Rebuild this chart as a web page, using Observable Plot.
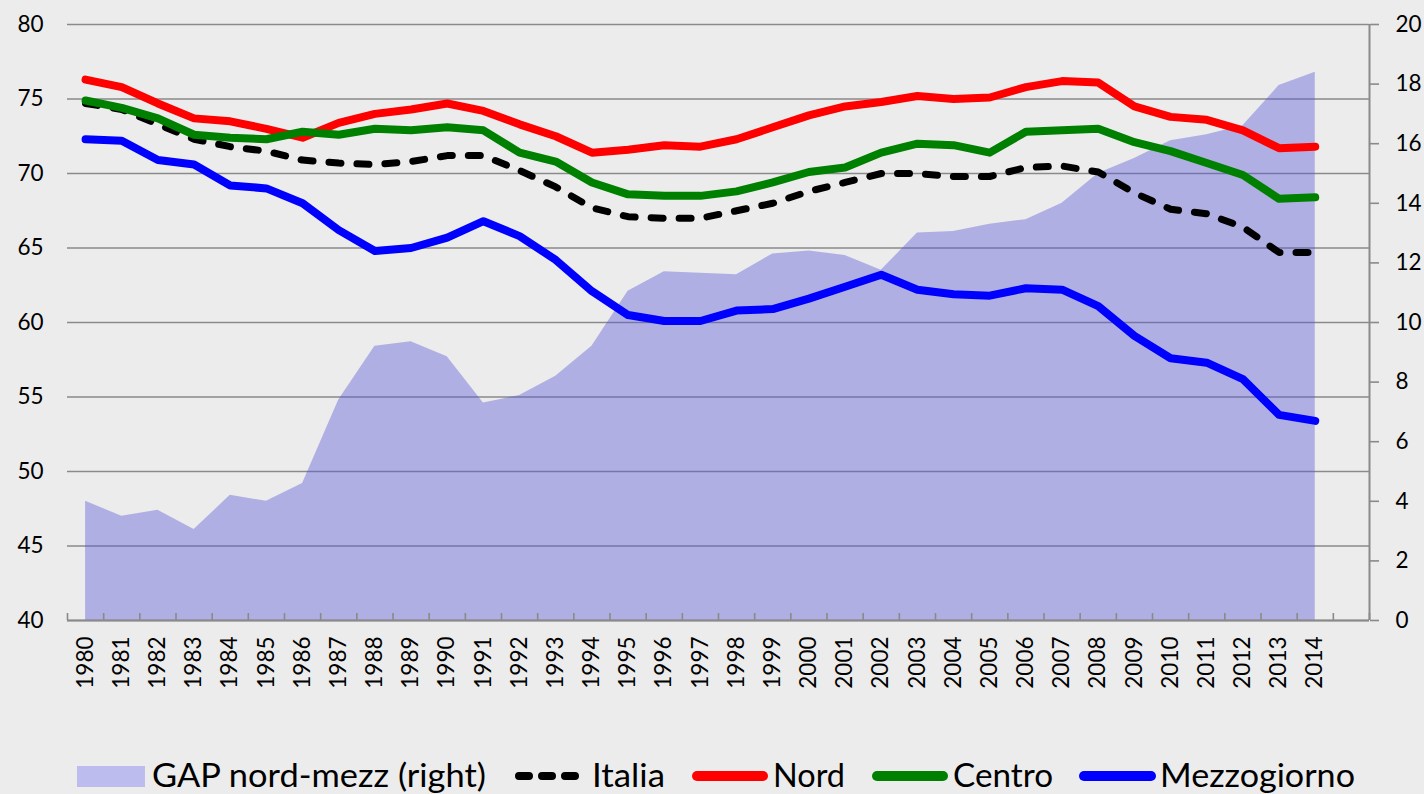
<!DOCTYPE html>
<html><head><meta charset="utf-8">
<script src="https://cdn.jsdelivr.net/npm/d3@7"></script>
<script src="https://cdn.jsdelivr.net/npm/@observablehq/plot@0.6"></script>
<style>
html,body{margin:0;padding:0;background:#ececec;width:1424px;height:794px;overflow:hidden;font-family:Lato,sans-serif;}
#chart{position:absolute;left:0;top:0;}
#legend{position:absolute;left:0;top:744px;}
</style></head><body>
<div id="chart"></div><div id="legend"></div>
<script>
const years = [1980,1981,1982,1983,1984,1985,1986,1987,1988,1989,1990,1991,1992,1993,1994,1995,1996,1997,1998,1999,2000,2001,2002,2003,2004,2005,2006,2007,2008,2009,2010,2011,2012,2013,2014];
const italia = [74.7,74.3,73.3,72.3,71.8,71.5,70.9,70.7,70.6,70.8,71.2,71.2,70.2,69.1,67.7,67.1,67.0,67.0,67.5,68.0,68.8,69.4,70.0,70.0,69.8,69.8,70.4,70.5,70.1,68.7,67.6,67.3,66.4,64.7,64.7];
const nord = [76.3,75.8,74.7,73.7,73.5,73.0,72.4,73.4,74.0,74.3,74.7,74.2,73.3,72.5,71.4,71.6,71.9,71.8,72.3,73.1,73.9,74.5,74.8,75.2,75.0,75.1,75.8,76.2,76.1,74.5,73.8,73.6,72.9,71.7,71.8];
const centro = [74.9,74.4,73.7,72.6,72.4,72.3,72.8,72.6,73.0,72.9,73.1,72.9,71.4,70.8,69.4,68.6,68.5,68.5,68.8,69.4,70.1,70.4,71.4,72.0,71.9,71.4,72.8,72.9,73.0,72.1,71.5,70.7,69.9,68.3,68.4];
const mezzogiorno = [72.3,72.2,70.9,70.6,69.2,69.0,68.0,66.2,64.8,65.0,65.7,66.8,65.8,64.2,62.1,60.5,60.1,60.1,60.8,60.9,61.6,62.4,63.2,62.2,61.9,61.8,62.3,62.2,61.1,59.1,57.6,57.3,56.2,53.8,53.4];
const gap = [4.0,3.5,3.7,3.05,4.2,4.0,4.6,7.4,9.2,9.35,8.85,7.3,7.55,8.2,9.2,11.05,11.7,11.65,11.6,12.3,12.4,12.25,11.75,13.0,13.05,13.3,13.45,14.0,15.0,15.5,16.1,16.3,16.6,17.95,18.4];
const leftTicks = [40,45,50,55,60,65,70,75,80];
const rightTicks = [0,2,4,6,8,10,12,14,16,18,20];
const legendLabels = ["GAP nord-mezz (right)","Italia","Nord","Centro","Mezzogiorno"];

const yMin = leftTicks[0], yMax = leftTicks[leftTicks.length-1];
const rMax = rightTicks[rightTicks.length-1];
const toLeft = g => yMin + g*(yMax-yMin)/rMax;
const fromLeft = v => (v-yMin)*rMax/(yMax-yMin);
const rows = years.map((year,i)=>({year, italia:italia[i], nord:nord[i], centro:centro[i], mezz:mezzogiorno[i], gap:gap[i]}));
const xDomain = [years[0]-0.5, years[years.length-1]+1.5];
const boundaries = d3.range(xDomain[0], xDomain[1]+0.01, 1);
const gridColor = "#8a8a8a";
const lineOpts = {x:"year", strokeWidth:8, strokeLinecap:"round", strokeLinejoin:"round"};

const plot = Plot.plot({
  width:1424, height:700, marginLeft:67, marginRight:55, marginTop:24, marginBottom:80,
  style:{background:"#ececec", fontFamily:"Lato, sans-serif", color:"black", overflow:"visible"},
  x:{type:"linear", domain:xDomain, axis:null, label:null},
  y:{domain:[yMin,yMax], axis:null, label:null},
  marks:[
    Plot.ruleY(leftTicks, {stroke:gridColor, strokeWidth:1.6}),
    Plot.areaY(rows, {x:"year", y1:yMin, y2:d=>toLeft(d.gap), fill:"rgb(86,86,214)", fillOpacity:0.4}),
    Plot.ruleY([yMin], {stroke:gridColor, strokeWidth:2}),
    Plot.ruleX([xDomain[1]], {stroke:gridColor, strokeWidth:2}),
    Plot.axisX({ticks:boundaries, tickSize:-7, tickFormat:()=>"", stroke:gridColor, strokeWidth:1.6, label:null}),
    Plot.axisX({ticks:years, tickSize:0, tickRotate:-90, tickPadding:16, tickFormat:d=>String(d), fontSize:22.5, fill:"black", label:null}),
    Plot.axisY({anchor:"left", ticks:leftTicks, tickSize:0, tickPadding:24, fontSize:22.5, fill:"black", label:null}),
    Plot.axisY({anchor:"right", ticks:rightTicks.map(toLeft), tickFormat:d=>String(Math.round(fromLeft(d))), tickSize:9, tickPadding:17, stroke:gridColor, strokeWidth:1.6, fontSize:22.5, fill:"black", label:null}),
    Plot.line(rows, {x:"year", y:"italia", stroke:"black", strokeWidth:7, strokeDasharray:"12,16", strokeLinecap:"round", strokeLinejoin:"round"}),
    Plot.line(rows, {...lineOpts, y:"nord", stroke:"#ff0000"}),
    Plot.line(rows, {...lineOpts, y:"centro", stroke:"#008000"}),
    Plot.line(rows, {...lineOpts, y:"mezz", stroke:"#0000ff"})
  ]
});
document.getElementById("chart").appendChild(plot);

// Legend
const lg = d3.select("#legend").append("svg").attr("width",1424).attr("height",50)
  .style("font-family","Lato, sans-serif");
lg.append("rect").attr("x",77).attr("y",22).attr("width",68).attr("height",21).attr("fill","#bcbcee");
const fs = 33;
const textAt = (x, s, w) => lg.append("text").attr("x",x).attr("y",43).attr("font-size",fs).attr("fill","black")
  .attr("textLength", w).attr("lengthAdjust","spacingAndGlyphs").text(s);
textAt(152, legendLabels[0], 334);
lg.append("line").attr("x1",519).attr("x2",586).attr("y1",32).attr("y2",32).attr("stroke","black")
  .attr("stroke-width",8).attr("stroke-linecap","round").attr("stroke-dasharray","10,13");
textAt(592, legendLabels[1], 73);
const seg = (x1,x2,c) => lg.append("line").attr("x1",x1).attr("x2",x2).attr("y1",32).attr("y2",32)
  .attr("stroke",c).attr("stroke-width",10).attr("stroke-linecap","round");
seg(697,763,"#ff0000"); textAt(773, legendLabels[2], 72);
seg(877,943,"#008000"); textAt(953, legendLabels[3], 100);
seg(1084,1151,"#0000ff"); textAt(1160, legendLabels[4], 195);
</script>
</body></html>
